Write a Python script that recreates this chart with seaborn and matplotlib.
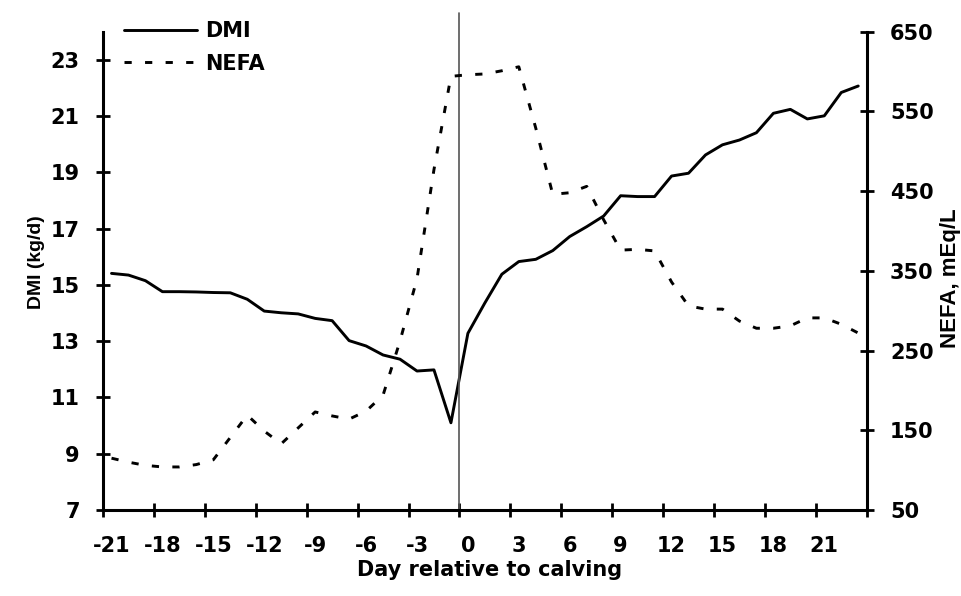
import matplotlib
matplotlib.use('Agg')
import matplotlib.pyplot as plt
import seaborn as sns
import pandas as pd

# day relative to calving (one point per day)
days = list(range(-21, 24))

dmi = [15.41, 15.35, 15.15, 14.76, 14.76, 14.75, 14.73, 14.72, 14.49, 14.07,
       14.01, 13.97, 13.81, 13.73, 13.02, 12.83, 12.51, 12.36, 11.94, 11.98,
       10.10, 13.28, 14.36, 15.38, 15.83, 15.91, 16.22, 16.72, 17.07, 17.45,
       18.17, 18.14, 18.14, 18.87, 18.97, 19.62, 19.98, 20.15, 20.41, 21.10,
       21.24, 20.90, 21.01, 21.84, 22.07]

nefa = [115, 110, 106, 104, 104, 107, 113, 141, 169, 149,
        133, 153, 173, 168, 164, 174, 194, 262, 340, 477,
        594, 596, 597, 601, 606, 529, 446, 448, 456, 414,
        376, 377, 375, 336, 306, 302, 302, 287, 278, 278,
        281, 291, 291, 283, 272]

x_labels = list(range(-21, 22, 3))
dmi_ticks = [7, 9, 11, 13, 15, 17, 19, 21, 23]
nefa_ticks = [50, 150, 250, 350, 450, 550, 650]

df = pd.DataFrame({'day': days, 'DMI': dmi, 'NEFA': nefa})

sns.set_style('ticks')
plt.rcParams['font.family'] = ['DejaVu Sans']
plt.rcParams['font.weight'] = 'bold'
plt.rcParams['lines.scale_dashes'] = False
for key in ['text.color', 'axes.labelcolor', 'xtick.color', 'ytick.color']:
    plt.rcParams[key] = 'black'

fig = plt.figure(figsize=(9.61, 5.96), dpi=100)
ax = fig.add_subplot(111)
fig.subplots_adjust(left=0.1072, right=0.9019, bottom=0.1443, top=0.9468)
ax2 = ax.twinx()

sns.lineplot(data=df, x='day', y='DMI', ax=ax, color='black', lw=2.1, label='DMI', legend=False)
sns.lineplot(data=df, x='day', y='NEFA', ax=ax2, color='black', lw=2.1, label='NEFA', legend=False)
ax2.lines[0].set_dashes((5.2, 9.6))

# calving line
ax.axvline(-0.5, ymin=0, ymax=1.04, color='#555555', lw=1.2, clip_on=False)

ax.set_xlim(-21.5, 23.5)
ax.set_ylim(7, 24)
ax2.set_ylim(50, 650)

ax.set_xticks(x_labels)
ax.set_xticklabels([str(v) for v in x_labels], fontsize=15, fontweight='bold')
ax.set_xticks([v - 0.5 for v in x_labels] + [23.5], minor=True)
ax.tick_params(axis='x', which='major', length=0, pad=19)
ax.tick_params(axis='x', which='minor', direction='inout', length=9.5, width=2)

ax.set_yticks(dmi_ticks)
ax.set_yticklabels([str(v) for v in dmi_ticks], fontsize=15, fontweight='bold')
ax.tick_params(axis='y', direction='inout', length=9.5, width=2, pad=12)
ax2.set_yticks(nefa_ticks)
ax2.set_yticklabels([str(v) for v in nefa_ticks], fontsize=15, fontweight='bold')
ax2.tick_params(axis='y', direction='inout', length=9.5, width=2, pad=12)

for s in ['top', 'right']:
    ax.spines[s].set_visible(False)
for s in ['top', 'left', 'bottom']:
    ax2.spines[s].set_visible(False)
for sp in [ax.spines['left'], ax.spines['bottom'], ax2.spines['right']]:
    sp.set_linewidth(2.2)
    sp.set_color('black')

ax.set_xlabel('Day relative to calving', fontsize=15, fontweight='bold')
ax.xaxis.set_label_coords(0.5067, -0.1045)
ax.set_ylabel('DMI (kg/d)', fontsize=14, fontweight='bold', family=['Liberation Sans'])
ax.yaxis.set_label_coords(-0.076, 0.5185)
ax2.set_ylabel('NEFA, mEq/L', fontsize=16, fontweight='bold', family=['Liberation Sans'])
ax2.yaxis.set_label_coords(1.096, 0.485)

handles = [ax.lines[0], ax2.lines[0]]
fig.legend(handles, ['DMI', 'NEFA'], loc='upper left', bbox_to_anchor=(124 / 961, 1 - 21 / 596),
           frameon=False, borderpad=0, borderaxespad=0, handlelength=3.5,
           handletextpad=0.4, labelspacing=0.6, prop={'weight': 'bold', 'size': 15})

fig.savefig('out.png', dpi=100)
